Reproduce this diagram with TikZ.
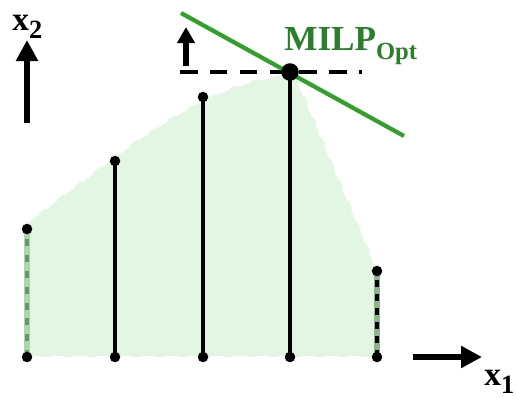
\documentclass[tikz,border=0pt]{standalone}
\usepackage{amsmath,amssymb}
\usepackage{fontspec}
\setmainfont{Liberation Serif}
\usepackage{xcolor}
\usepackage{tikz}
\usetikzlibrary{calc,arrows.meta,positioning}
\definecolor{greenx}{HTML}{33A02C}
\definecolor{darkgreenx}{HTML}{2A7F2A}
\definecolor{softgreen}{HTML}{E3F6E3}
\definecolor{edgegreen}{HTML}{A9D8A9}
\definecolor{edgegray}{HTML}{8FB58F}
\tikzset{
  ar/.style={-{Triangle[length=4.2mm,width=4.2mm]},line width=3.4pt,black},
  bar/.style={line width=2.3pt,black},
  pt/.style={circle,fill=black,inner sep=0pt,minimum size=6pt},
  bigpt/.style={circle,fill=black,inner sep=0pt,minimum size=10pt},
  lbl/.style={font=\fontsize{19}{21}\selectfont\bfseries,inner sep=0pt}
}
\begin{document}
\begin{tikzpicture}[x=0.02cm,y=-0.02cm]
\useasboundingbox (0,0) rectangle (516,397);
% lattice points
\coordinate (b1) at (27,357); \coordinate (t1) at (27,229);
\coordinate (b2) at (115,357); \coordinate (t2) at (115,161);
\coordinate (b3) at (203,357); \coordinate (t3) at (203,97);
\coordinate (b4) at (290,357); \coordinate (t4) at (290,72);
\coordinate (b5) at (377,357); \coordinate (t5) at (377,271);
% feasible region
\fill[softgreen] (27,357) -- (27,222) -- (112,158) .. controls (190,100) and (240,78) .. (294,74)
  -- (303,92) -- (377,268) -- (377,357) -- cycle;
\draw[white,line width=1.6pt,dash pattern=on 8pt off 5pt] (27,222) -- (112,158) .. controls (190,100) and (240,78) .. (294,74)
  -- (303,92) -- (377,268);
\draw[white,line width=1.6pt,dash pattern=on 8pt off 5pt] (b1) -- (b5);
% border segments
\draw[edgegreen,line width=3pt] (b1) -- (t1);
\draw[edgegray!80!black,line width=2pt,dash pattern=on 4pt off 5pt] (b1) -- (t1);
\draw[edgegray,line width=3pt] (b5) -- (t5);
\draw[black,line width=2pt,dash pattern=on 4pt off 4pt] (b5) -- (t5);
% integer columns
\foreach \i in {2,3,4} \draw[bar] (b\i) -- (t\i);
\foreach \i in {1,2,3,4,5} \node[pt] at (b\i) {};
\foreach \i in {1,2,3,5} \node[pt] at (t\i) {};
% objective
\coordinate (hl) at (180,72); \coordinate (hr) at (362,72);
\draw[black,line width=2.8pt,dash pattern=on 10pt off 7pt] (hl) -- (hr);
\coordinate (gl) at (181,13); \coordinate (gr) at (404,136);
\draw[greenx,line width=2.4pt] (gl) -- (gr);
\node[bigpt] (opt) at (t4) {};
\coordinate (up0) at (186,66); \coordinate (up1) at (186,27);
\draw[-{Triangle[length=3.2mm,width=3.4mm]},line width=3pt] (up0) -- (up1);
\node[darkgreenx,font=\fontsize{20}{22}\selectfont\bfseries,anchor=base west,inner sep=0pt] (milp) at (284,50)
  {MILP\raisebox{-0.28em}{\fontsize{14}{16}\selectfont Opt}};
% axes
\coordinate (y0) at (27,123); \coordinate (y1) at (27,40);
\draw[ar] (y0) -- (y1);
\node[lbl,anchor=base west] (x2) at (12,30) {x\raisebox{-0.25em}{\fontsize{15}{17}\selectfont 2}};
\coordinate (x0) at (413,357); \coordinate (x1) at (482,357);
\draw[ar] (x0) -- (x1);
\node[lbl,anchor=base west] (x1l) at (484,385) {x\raisebox{-0.25em}{\fontsize{15}{17}\selectfont 1}};
\end{tikzpicture}
\end{document}
